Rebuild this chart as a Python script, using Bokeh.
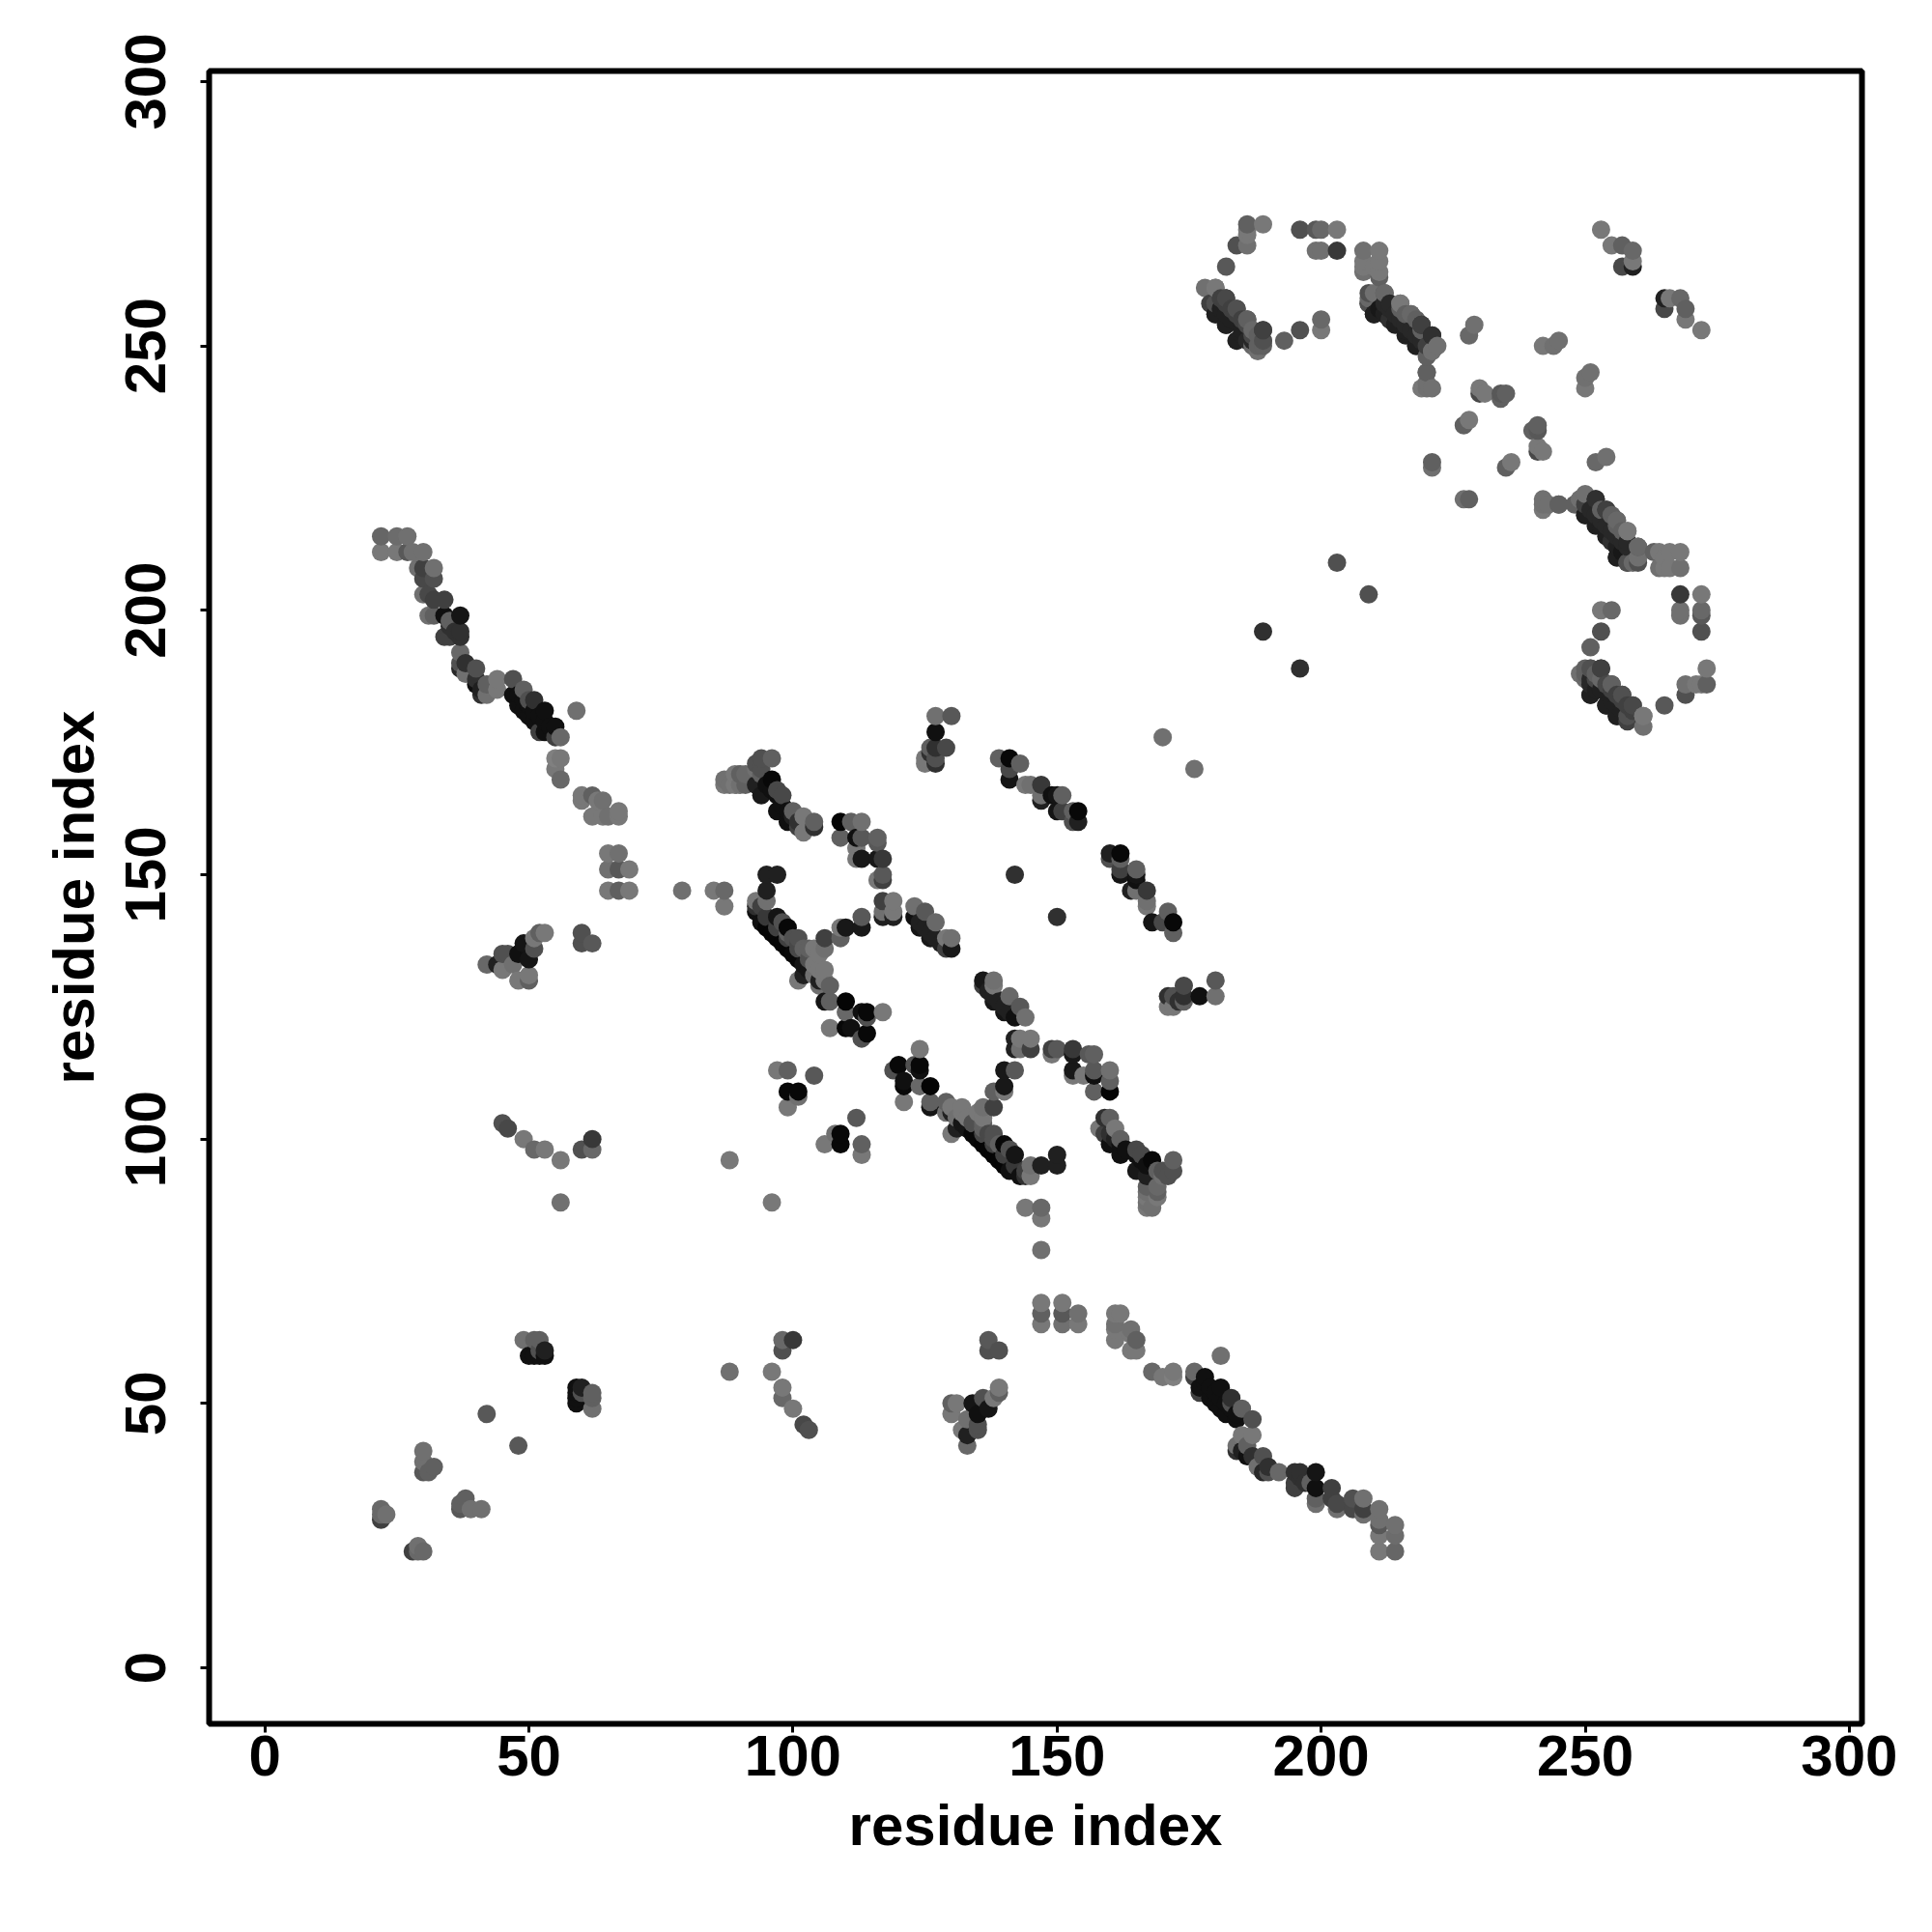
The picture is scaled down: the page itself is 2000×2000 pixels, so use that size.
import numpy as np
from bokeh.plotting import figure
from bokeh.models import ColumnDataSource, FixedTicker
from bokeh.embed import file_html
from bokeh.resources import INLINE

tick_values = [0, 50, 100, 150, 200, 250, 300]
axis_title = "residue index"

# Contacts: (i, j, grey level), for j > i. The map is symmetric.
strand_a = """22 214 66;25 214 6c;27 214 70;22 211 78;25 211 78;27 211 58;28 211 70;30 211 70;
29 208 70;30 208 40;32 208 70;30 206 48;32 206 50;30 203 70;31 203 48;32 202 40;34 202 40;31 199 70;
32 199 60;34 199 10;35 198 60;37 199 15;34 195 40;35 195 40;37 196 30;37 195 30;37 192 68;37 190 50;
38 190 30;37 189 28;38 188 70;40 189 50;40 186 10;40 187 30;41 185 20;41 184 30;42 184 70;42 186 60;
44 187 78;44 185 78;47 187 50;47 184 10;49 185 60;48 182 10;50 183 50;51 183 30;50 180 10;53 181 10;
53 179 10;52 177 40;55 178 10;53 177 10;56 176 68;55 176 40;59 181 70;55 172 80;56 172 78;55 170 78;
56 168 68;60 165 78;60 164 78;62 165 60;64 164 70;63 164 78;62 161 78;65 161 70;67 162 78;67 161 78;64 161 78;
48 184 10;49 183 10;50 182 10;51 181 10;52 180 10;54 178 10;49 181 10;51 179 10;35 197 30;36 196 30"""
strand_b = """65 154 78;67 154 70;65 151 70;67 151 58;69 151 78;65 147 78;67 147 60;69 147 78;79 147 70;
85 147 78;87 147 68;87 144 78;42 133 68;45 135 50;45 132 78;44 133 20;46 135 50;48 130 78;50 130 60;
50 131 78;48 135 10;50 134 15;49 137 15;51 136 50;51 138 78;52 139 60;53 139 78;47 133 70;60 139 50;
60 137 50;62 137 58;45 103 50;46 102 48;49 100 78;51 98 68;53 98 78;56 96 78;62 100 38;60 98 50;
62 98 68;56 88 70"""
near_diagonal = """42 48 58;49 62 70;51 62 60;50 59 10;51 59 10;53 60 20;52 59 10;53 59 10;52 60 50;52 62 60;
30 41 70;30 39 70;30 37 58;32 38 60;31 37 60;22 30 68;22 28 40;23 29 70;22 29 68;
97 113 78;99 113 60;104 112 58;99 109 08;101 109 08;101 108 70;99 106 78;88 96 78"""
strand_c = """87 167 78;89 169 78;89 167 78;91 167 60;91 169 68;93 170 70;94 172 50;96 172 60;94 170 50;
96 168 08;93 167 20;94 165 18;97 166 48;98 165 48;97 162 10;99 160 10;100 162 60;102 161 78;102 158 78;
101 159 40;104 160 60;104 159 30;94 169 60;90 169 60;90 167 70;93 171 50;87 168 70;88 167 70;
95 167 10;96 166 10;97 165 10;98 163 10;99 162 10;100 161 20;101 160 30"""
strand_d = """109 160 05;111 160 60;113 160 70;109 157 60;112 157 10;113 157 58;112 155 78;116 157 60;
116 156 58;112 153 78;113 153 18;116 153 18;117 153 38;116 149 78;117 150 58;117 149 40;117 145 40;
117 142 20;117 143 70;119 145 78;119 143 78;119 142 20;123 144 70;125 143 58;123 142 10;124 140 15;
127 141 68;126 138 18;129 138 78;130 138 70;130 136 18;129 136 40;
124 141 20;125 140 20;126 139 20;127 138 20;128 137 20"""
strand_e = """95 150 20;97 150 20;95 147 20;93 145 78;95 145 70;94 144 40;93 143 10;94 141 10;97 142 15;
96 139 05;99 140 08;101 138 50;102 136 60;104 136 78;106 136 70;98 137 05;100 135 08;102 131 20;
102 133 15;104 133 78;106 132 78;106 130 78;101 130 78;105 129 70;107 129 60;106 126 15;107 126 60;
110 126 05;110 124 68;113 124 10;114 124 08;117 124 78;114 123 50;110 121 08;111 121 10;107 121 78;
114 120 08;113 119 50;113 142 58;113 140 18;110 140 18;109 140 78;109 138 60;106 138 40;
93 144 30;95 142 38;97 140 40;99 138 40;101 136 48;103 134 50;
95 140 05;97 138 05;99 136 05;101 134 08;103 132 15;105 130 20;
98 141 50;99 139 60;100 138 50;101 137 48;103 136 60;105 135 78;105 132 78;104 131 70"""
strand_f = """127 177 10;129 174 48;127 174 30;125 171 78;127 172 50;127 171 30;127 180 70;130 180 58;
126 173 30;125 172 78;126 174 60;139 172 60;141 172 08;143 171 60;141 168 15;144 167 78;145 167 70;
147 167 38;147 165 70;147 164 20;150 165 15;151 165 60;150 162 15;151 162 40;153 162 60;154 162 08;
154 160 20;153 160 50;149 165 10;141 170 48;170 176 70;142 150 30"""
strand_g = """186 273 60;189 273 78;186 271 78;184 269 50;186 269 70;182 265 58;178 261 70;180 261 78;
182 259 40;180 258 50;184 257 40;180 256 20;186 255 48;182 254 20;185 252 20;187 253 68;189 253 40;
189 251 60;187 250 68;189 250 60;186 272 78;184 251 20;179 258 40;188 249 70;193 251 60;196 253 50;
200 255 68;200 253 78;196 272 50;199 272 58;200 272 68;203 272 78;199 268 70;200 268 70;203 268 38;
189 196 30;203 209 50;
181 259 40;182 258 40;183 257 40;184 256 40;185 255 40;186 254 48;187 252 48;188 252 60;183 255 20;185 253 20;
187 251 28;186 251 28;188 250 60;181 257 20;182 256 20"""
strand_h = """208 268 70;211 268 78;208 264 70;211 264 78;210 265 78;208 266 78;211 266 78;211 263 60;
209 259 68;210 260 70;212 260 58;211 257 18;213 258 28;215 258 70;217 256 60;216 253 20;219 254 30;
218 250 18;221 252 28;222 250 70;220 248 60;221 249 70;210 256 20;209 258 50;213 255 30;208 265 78;
209 260 50;229 254 70;228 252 68;220 245 60;219 242 78;221 242 70;230 242 78;231 241 78;234 241 58;
235 241 60;234 240 60;228 236 78;227 235 60;221 228 60;221 227 70;242 250 78;244 250 70;245 251 70;
230 241 48;220 242 70;220 243 70;220 245 60;253 272 78;255 269 78;257 269 60;259 268 68;259 266 78;
257 265 48;259 265 20;
212 258 28;213 257 28;214 256 28;215 255 28;216 254 28;217 253 28;218 252 28;219 251 28;220 250 40;
212 256 20;214 254 20;216 252 20;215 257 60;216 256 60;218 255 60;219 253 60"""
strand_i = """221 249 70;221 252 30;219 254 40;217 256 68;215 258 78;212 260 68;218 250 20;216 253 20;
213 255 30;210 256 20;209 258 50;189 251 50;189 253 40;186 255 60;184 257 50;182 259 48;180 261 78;
184 251 20;182 254 20;180 256 20"""

groups = [strand_a, strand_b, near_diagonal, strand_c, strand_d, strand_e, strand_f, strand_g, strand_h, strand_i]
rows = [r.split() for g in groups for r in g.replace("\n", "").split(";") if r.strip()]
res_i = [int(r[0]) for r in rows]
res_j = [int(r[1]) for r in rows]
grey = [int(r[2], 16) for r in rows]

xs = np.array(res_i + res_j)
ys = np.array(res_j + res_i)
gs = np.array(grey + grey)
order = np.lexsort((ys, xs))
colors = ["#%02x%02x%02x" % (g, g, g) for g in gs[order]]
src = ColumnDataSource(dict(x=xs[order], y=ys[order], c=colors))

p = figure(frame_width=1711, frame_height=1711, output_backend="svg", toolbar_location=None,
           x_range=(-10.55, 302.4), y_range=(-10.6, 302.0),
           min_border_left=216, min_border_top=73, min_border_right=50, min_border_bottom=160,
           x_axis_label=axis_title, y_axis_label=axis_title)
p.scatter("x", "y", source=src, size=19, fill_color="c", line_color=None)

p.grid.visible = False
p.background_fill_color = "white"
p.border_fill_color = "white"
p.outline_line_color = "black"
p.outline_line_width = 6
for ax in (p.xaxis[0], p.yaxis[0]):
    ax.ticker = FixedTicker(ticks=tick_values)
    ax.axis_line_color = None
    ax.minor_tick_line_color = None
    ax.major_tick_line_color = "black"
    ax.major_tick_line_width = 3
    ax.major_tick_in = 0
    ax.major_tick_out = 9
    ax.major_label_text_font = "Liberation Sans"
    ax.major_label_text_font_style = "bold"
    ax.major_label_text_font_size = "60px"
    ax.major_label_text_color = "black"
    ax.axis_label_text_font = "Liberation Sans"
    ax.axis_label_text_font_style = "bold"
    ax.axis_label_text_font_size = "60px"
    ax.axis_label_text_color = "black"
p.xaxis[0].major_label_standoff = 3
p.xaxis[0].axis_label_standoff = 15
p.yaxis[0].major_label_orientation = "parallel"
p.yaxis[0].major_label_standoff = 36
p.yaxis[0].axis_label_standoff = 18

open("out.html", "w").write(file_html(p, INLINE))
